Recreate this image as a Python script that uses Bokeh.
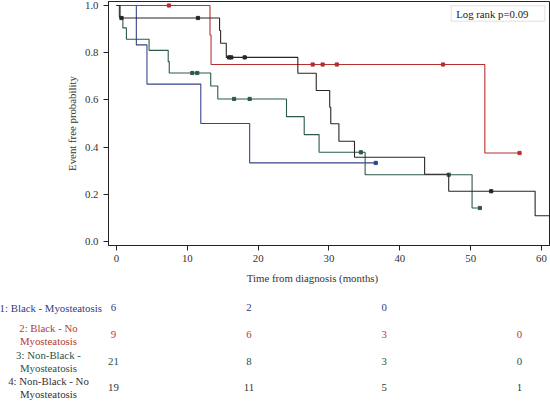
import numpy as np
from bokeh.plotting import figure
from bokeh.models import (Range1d, FixedTicker, PrintfTickFormatter, Label,
                          BoxAnnotation, ColumnDataSource)
from bokeh.layouts import column, row
from bokeh.core.properties import value
from bokeh.embed import file_html
from bokeh.resources import INLINE

# ---- Kaplan-Meier data ----
group_names = ["1: Black - Myosteatosis", "2: Black - No\nMyosteatosis",
               "3: Non-Black -\nMyosteatosis", "4: Non-Black - No\nMyosteatosis"]

blue_t = [0, 2.8, 4.3, 11.9, 18.8]
blue_s = [1.0, 0.833, 0.667, 0.5, 0.333]
blue_end = 36.6
blue_cens = [36.6]

red_t = [0, 13.2, 13.35, 52.0]
red_s = [1.0, 0.875, 0.75, 0.375]
red_end = 56.9
red_cens = [7.4, 27.7, 29.1, 31.1, 46.1, 56.9]

green_t = [0, 0.4, 0.9, 1.4, 4.6, 7.3, 7.45, 13.3, 14.3, 24.0, 26.5, 28.6, 35.1, 50.2]
green_s = [1.0, 0.952, 0.905, 0.857, 0.81, 0.762, 0.714, 0.659, 0.604, 0.529, 0.453, 0.378, 0.283, 0.142]
green_end = 51.3
green_cens = [10.7, 11.4, 16.6, 18.8, 34.5, 46.9, 51.3]

black_t = [0, 0.5, 14.55, 14.7, 15.5, 25.6, 28.2, 30.1, 30.25, 31.4, 33.6, 43.5, 46.9, 59.1]
black_s = [1.0, 0.947, 0.894, 0.84, 0.78, 0.713, 0.64, 0.569, 0.499, 0.425, 0.357, 0.285, 0.213, 0.109]
black_end = 62.0
black_cens = [0.7, 11.5, 15.9, 16.2, 18.1, 52.9]

x_ticks = [0, 10, 20, 30, 40, 50, 60]
y_ticks = [0.0, 0.2, 0.4, 0.6, 0.8, 1.0]

# number at risk
risk_times = [0, 20, 40, 60]
risk_1 = [6, 2, 0]
risk_2 = [9, 6, 3, 0]
risk_3 = [21, 8, 3, 0]
risk_4 = [19, 11, 5, 1]

line_colors = ["#34458a", "#b5302e", "#2a5b48", "#2b2424"]
text_colors = ["#2e3d84", "#b03a36", "#285443", "#333333"]
FONT = "Liberation Serif"
FS = "10.8px"

W = 550
p = figure(width=W, height=266, output_backend="svg", toolbar_location=None,
           x_range=Range1d(-1.129, 61.13), y_range=Range1d(-0.0169, 1.0169),
           min_border_left=108, min_border_right=1, min_border_top=1, min_border_bottom=21)
p.grid.visible = False
p.outline_line_color = "#222222"
p.outline_line_width = 1
p.background_fill_color = "white"
p.border_fill_color = "white"

for ax in (p.xaxis[0], p.yaxis[0]):
    ax.axis_line_color = "#222222"
    ax.major_tick_line_color = "#222222"
    ax.major_tick_out = 5
    ax.major_tick_in = 0
    ax.minor_tick_line_color = None
    ax.major_label_text_font = FONT
    ax.major_label_text_font_size = FS
    ax.major_label_text_color = "#333333"
    ax.axis_label_text_font = FONT
    ax.axis_label_text_font_size = FS
    ax.axis_label_text_font_style = "normal"
    ax.axis_label_text_color = "#333333"

p.xaxis.ticker = FixedTicker(ticks=x_ticks)
p.xaxis.major_label_standoff = 4
p.yaxis.ticker = FixedTicker(ticks=y_ticks)
p.yaxis.formatter = PrintfTickFormatter(format="%.1f")
p.yaxis.major_label_standoff = 5
p.yaxis.axis_label = "Event free probability"
p.yaxis.axis_label_standoff = 4


def draw(t, s, end, cens, color):
    xs, ys = [], []
    tt = list(t) + [end]
    for i in range(len(s)):
        if i > 0:
            xs.append(tt[i]); ys.append(s[i - 1])
        xs.append(tt[i]); ys.append(s[i])
    xs.append(tt[-1]); ys.append(s[-1])
    p.line(xs, ys, line_color=color, line_width=1.1)
    idx = np.searchsorted(np.array(t), np.array(cens), side="right") - 1
    cy = [s[i] for i in idx]
    p.scatter(cens, cy, marker="square", size=3.2, fill_color=color, line_color=color)


draw(blue_t, blue_s, blue_end, blue_cens, line_colors[0])
draw(red_t, red_s, red_end, red_cens, line_colors[1])
draw(green_t, green_s, green_end, green_cens, line_colors[2])
draw(black_t, black_s, black_end, black_cens, line_colors[3])

box = BoxAnnotation(left=47.25, right=60.47, top=0.9987, bottom=0.9335,
                    fill_color="white", fill_alpha=1.0, line_color="#9a9a9a", line_width=1)
p.add_layout(box)
p.add_layout(Label(x=47.95, y=0.966, text="Log rank p=0.09", text_font=FONT,
                   text_font_size=FS, text_color="#222222",
                   text_baseline="middle", text_align="left"))

# ---- risk table ----
t = figure(width=W, height=136, output_backend="svg", toolbar_location=None,
           x_range=Range1d(-16.70, 64.58), y_range=Range1d(4.5468, -0.5468),
           min_border=0, x_axis_location=None, y_axis_location=None)
t.grid.visible = False
t.outline_line_color = None
t.background_fill_color = "white"
t.border_fill_color = "white"

rows = [risk_1, risk_2, risk_3, risk_4]
xs, ys, txt, cols = [], [], [], []
for r, vals in enumerate(rows):
    for k, v in enumerate(vals):
        xs.append(risk_times[k])
        ys.append(r + 1)
        txt.append(str(v))
        cols.append(text_colors[r])
t.text(x="x", y="y", text="text", text_color="c",
       source=ColumnDataSource(dict(x=xs, y=ys, text=txt, c=cols)),
       text_font=value(FONT), text_font_size=FS,
       text_align="center", text_baseline="middle")

t.text(x=[-9.28, -9.61, -9.61, -9.61], y=[1, 2, 3, 4], text=group_names, text_color=text_colors,
       text_font=value(FONT), text_font_size=FS, text_line_height=1.1,
       text_align="center", text_baseline="middle")

t.add_layout(Label(x=29.4, y=-0.10, text="Time from diagnosis (months)", text_font=FONT,
                   text_font_size=FS, text_color="#333333",
                   text_align="center", text_baseline="middle"))

layout = column(p, row(t), spacing=0)
open("out.html", "w").write(file_html(layout, INLINE))
